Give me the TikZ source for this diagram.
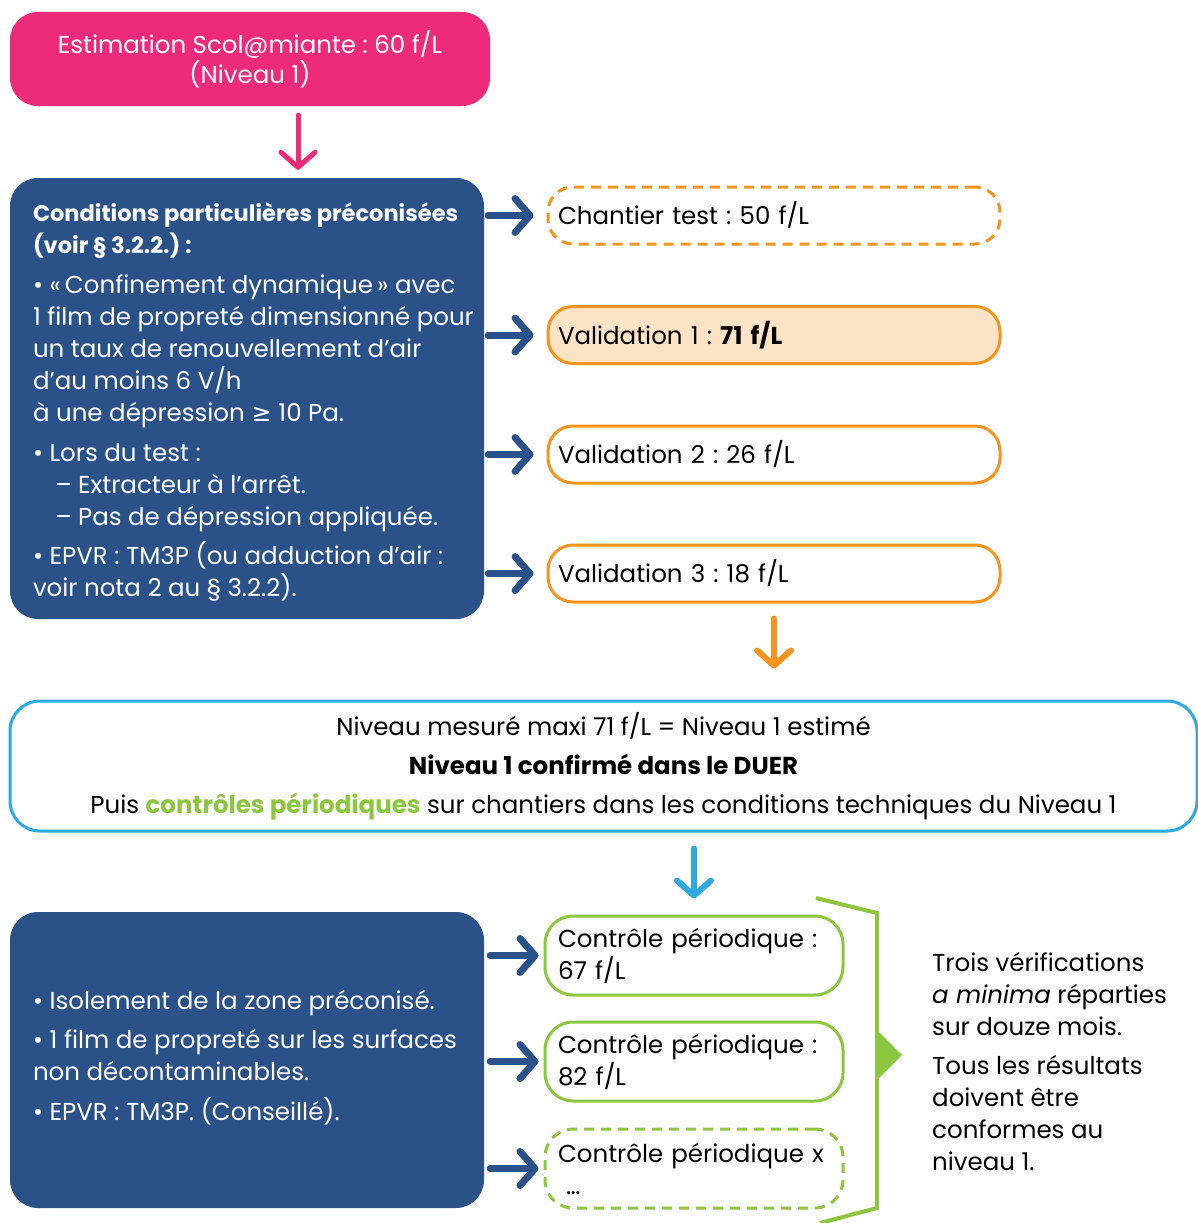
\documentclass[tikz,border=0pt]{standalone}
\usepackage{fontspec}
\setmainfont{Poppins}
\newfontfamily\symb{DejaVu Sans}
\usetikzlibrary{calc}
\usetikzlibrary{arrows.meta}
\definecolor{rose}{HTML}{EE2A7B}
\definecolor{bleu}{HTML}{2B5288}
\definecolor{orange}{HTML}{F7941D}
\definecolor{orangeclair}{HTML}{FDE3C5}
\definecolor{cyan}{HTML}{2DAAE1}
\definecolor{vert}{HTML}{8CC63F}
\newcommand{\txt}{\fontsize{24.5}{32}\selectfont}
\newcommand{\titre}{\fontsize{22.5}{32}\selectfont\bfseries}
\frenchspacing

\begin{document}
\begin{tikzpicture}[x=1pt, y=-1pt,
    fleche/.style={line width=#1, line cap=round,
      -{Straight Barb[length=15pt, width=34pt, line cap=round, line join=round]}},
    rosebox/.style={fill=rose, rounded corners=28pt, minimum width=480pt, minimum height=94pt,
      text=white, align=center, font=\txt},
    bluebox/.style={fill=bleu, rounded corners=28pt, minimum width=474pt},
    bluetext/.style={text=white, align=left, inner sep=0pt, font=\txt},
    valbox/.style={draw=orange, line width=3pt, rounded corners=25pt, minimum width=452pt,
      minimum height=57pt, text width=432pt, inner xsep=10pt, align=left, font=\txt},
    ctrlbox/.style={draw=vert, line width=3pt, rounded corners=28pt, minimum width=298pt,
      minimum height=79pt, text width=272pt, inner xsep=13pt, align=left, font=\txt},
    niveaubox/.style={draw=cyan, line width=3pt, rounded corners=30pt, minimum width=1187pt,
      minimum height=130pt, align=center, font=\txt}]
  \useasboundingbox (0,0) rectangle (1198,1223);

  \draw (250,59) node[rosebox] (est) {Estimation Scol@miante : 60 f/L\\[-2pt](Niveau 1)};

  \draw (247,398.5) node[bluebox, minimum height=441pt] (cond) {};
  \draw ([xshift=23pt, yshift=-4pt]cond.west) node[bluetext, anchor=west] (condtxt)
    {{\titre Conditions particulières préconisées}\\
     {\titre (voir § 3.2.2.) :}\\[8pt]
     • «\,Confinement dynamique\,» avec\\
     1 film de propreté dimensionné pour\\
     un taux de renouvellement d’air\\
     d’au moins 6 V/h\\
     à une dépression {\symb ≥} 10 Pa.\\[8pt]
     • Lors du test :\\
     \hspace*{22pt}– Extracteur à l’arrêt.\\
     \hspace*{22pt}– Pas de dépression appliquée.\\[7pt]
     • EPVR : TM3P (ou adduction d’air :\\
     voir nota 2 au § 3.2.2).};

  \draw (774,215.5) node[valbox, dashed, dash pattern=on 10pt off 7pt] (chantier) {Chantier test : 50 f/L};
  \draw (774,335) node[valbox, fill=orangeclair] (val1) {Validation 1 : \textbf{71 f/L}};
  \draw (774,454.5) node[valbox] (val2) {Validation 2 : 26 f/L};
  \draw (774,573.5) node[valbox] (val3) {Validation 3 : 18 f/L};

  \draw (603.5,766) node[niveaubox] (niveau)
    {Niveau mesuré maxi 71 f/L = Niveau 1 estimé\\[7pt]
     \textbf{Niveau 1 confirmé dans le DUER}\\[7pt]
     Puis \textcolor{vert}{\textbf{contrôles périodiques}} sur chantiers dans les conditions techniques du Niveau 1};

  \draw (247,1060) node[bluebox, minimum height=296pt] (isol) {};
  \draw ([xshift=23pt, yshift=2pt]isol.west) node[bluetext, anchor=west] (isoltxt)
    {• Isolement de la zone préconisé.\\[7pt]
     • 1 film de propreté sur les surfaces\\
     non décontaminables.\\[8pt]
     • EPVR : TM3P. (Conseillé).};

  \draw (694,955.5) node[ctrlbox] (ctrl1) {Contrôle périodique :\\67 f/L};
  \draw (694,1061.5) node[ctrlbox] (ctrl2) {Contrôle périodique :\\82 f/L};
  \draw (694,1168.5) node[ctrlbox, dashed, dash pattern=on 10pt off 7pt] (ctrlx) {Contrôle périodique x\\\hspace*{8pt}\ldots};

  \draw (932,1062) node[anchor=west, align=left, inner sep=0pt, font=\txt] (trois)
    {Trois vérifications\\
     \textit{a minima} réparties\\
     sur douze mois.\\[7pt]
     Tous les résultats\\
     doivent être\\
     conformes au\\
     niveau 1.};

  \draw[fleche=5pt, rose, shorten <=9pt, shorten >=8pt] ([xshift=48pt]est.south) -- ([xshift=51pt]cond.north);
  \draw[fleche=7pt, bleu, shorten <=4pt, shorten >=13pt] (cond.east |- chantier.west) -- (chantier.west);
  \draw[fleche=7pt, bleu, shorten <=4pt, shorten >=13pt] (cond.east |- val1.west) -- (val1.west);
  \draw[fleche=7pt, bleu, shorten <=4pt, shorten >=13pt] (cond.east |- val2.west) -- (val2.west);
  \draw[fleche=7pt, bleu, shorten <=4pt, shorten >=13pt] (cond.east |- val3.west) -- (val3.west);
  \draw[fleche=6pt, orange, shorten <=15pt, shorten >=31pt] (val3.south) -- (val3.south |- niveau.north);
  \draw[fleche=6pt, cyan, shorten <=16pt, shorten >=16pt] (niveau.south -| ctrl1.north) -- (ctrl1.north);
  \draw[fleche=7pt, bleu, shorten <=6pt, shorten >=5pt] (isol.east |- ctrl1.west) -- (ctrl1.west);
  \draw[fleche=7pt, bleu, shorten <=6pt, shorten >=5pt] (isol.east |- ctrl2.west) -- (ctrl2.west);
  \draw[fleche=7pt, bleu, shorten <=6pt, shorten >=5pt] (isol.east |- ctrlx.west) -- (ctrlx.west);

  \draw[vert, line width=4pt] (816,898) -- (877,913) -- (877,1208) -- (820,1223);
  \fill[vert] (877,1030) -- (902,1055) -- (877,1080) -- cycle;
\end{tikzpicture}
\end{document}
